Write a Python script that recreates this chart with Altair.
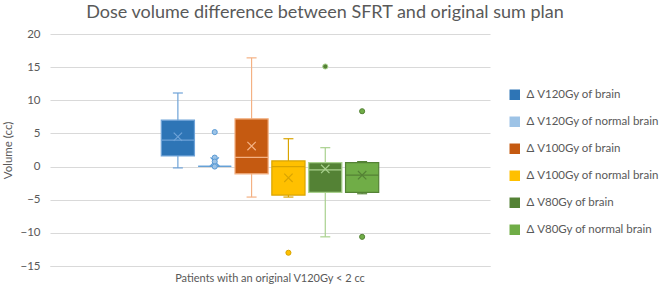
import altair as alt
import pandas as pd

# Box-and-whisker summaries for each dose-volume difference (cc)
group = "Patients with an original V120Gy < 2 cc"
series = [
    "Δ V120Gy of brain",
    "Δ V120Gy of normal brain",
    "Δ V100Gy of brain",
    "Δ V100Gy of normal brain",
    "Δ V80Gy of brain",
    "Δ V80Gy of normal brain",
]
q1 = [1.6, 0.05, -1.1, -4.3, -3.9, -3.9]
median = [4.0, 0.05, 1.4, 0.0, -0.5, -1.3]
q3 = [7.0, 0.05, 7.2, 0.85, 0.6, 0.6]
whisker_low = [-0.2, 0.05, -4.6, -4.6, -10.6, -4.1]
whisker_high = [11.1, 0.05, 16.4, 4.2, 2.85, 0.75]
mean = [4.5, 0.75, 3.1, -1.7, -0.35, -1.3]

# Outlying points (series index, value)
outlier_series = [1, 1, 1, 1, 3, 4, 5, 5]
outlier_values = [5.2, 1.35, 0.75, 0.0, -13.0, 15.1, 8.35, -10.6]

fill_colors = ["#2E75B6", "#9DC3E6", "#C55A11", "#FFC000", "#548235", "#70AD47"]
line_colors = ["#6FA3D8", "#5B9BD5", "#F4B183", "#D9A400", "#A9D18E", "#548235"]
y_ticks = [-15, -10, -5, 0, 5, 10, 15, 20]

boxes = pd.DataFrame({
    "group": group,
    "series": series,
    "q1": q1,
    "median": median,
    "q3": q3,
    "lo": whisker_low,
    "hi": whisker_high,
    "mean": mean,
    "line": line_colors,
})
outliers = pd.DataFrame({
    "group": group,
    "series": [series[i] for i in outlier_series],
    "value": outlier_values,
    "line": [line_colors[i] for i in outlier_series],
})

FONT = "Lato"
TEXT = "#595959"

x = alt.X(
    "group:N",
    scale=alt.Scale(paddingInner=0, paddingOuter=0.495),
    axis=alt.Axis(title=None, labelAngle=0, ticks=False, domain=True, grid=False,
                  domainColor="#D9D9D9", labelFontSize=11, labelColor=TEXT,
                  labelFont=FONT, labelPadding=6, labelLimit=400),
)
xo = alt.XOffset("series:N", sort=series,
                 scale=alt.Scale(paddingInner=0.1, paddingOuter=0.05))
yscale = alt.Scale(domain=[-15, 20], nice=False, zero=False)
yaxis = alt.Axis(title="Volume (cc)", values=y_ticks,
                 grid=True, gridColor="#D9D9D9", domain=False, ticks=False,
                 labelOverlap=False, labelFontSize=11.5, labelColor=TEXT,
                 labelFont=FONT, labelPadding=10,
                 titleFontSize=11.5, titleColor=TEXT, titleFont=FONT,
                 titleFontWeight="normal", titlePadding=6)


def yenc(field):
    return alt.Y(field, scale=yscale, axis=yaxis)


color = alt.Color(
    "series:N", sort=series,
    scale=alt.Scale(domain=series, range=fill_colors),
    legend=alt.Legend(title=None, orient="none", legendX=459, legendY=55,
                      symbolType="square", symbolSize=110, symbolStrokeWidth=0,
                      symbolOpacity=1, symbolFillColor="transparent",
                      labelFontSize=11.5, labelColor=TEXT, labelFont=FONT,
                      rowPadding=14, labelOffset=6, labelLimit=300),
)
stroke = alt.Stroke("line:N", scale=None)
line_color = alt.Color("line:N", scale=None)

base = alt.Chart(boxes)

whiskers = base.mark_rule(strokeWidth=1.2).encode(
    x=x, xOffset=xo, y=yenc("lo:Q"), y2="hi:Q", stroke=stroke)
cap_lo = base.mark_tick(size=10, thickness=1.2, opacity=1).encode(
    x=x, xOffset=xo, y=yenc("lo:Q"), color=line_color)
cap_hi = base.mark_tick(size=10, thickness=1.2, opacity=1).encode(
    x=x, xOffset=xo, y=yenc("hi:Q"), color=line_color)
box = base.mark_bar(strokeWidth=1.2, opacity=1, fillOpacity=1).encode(
    x=x, xOffset=xo, y=yenc("q1:Q"), y2="q3:Q", fill=color, stroke=stroke)
med = base.mark_tick(size=33, thickness=1.2, opacity=1).encode(
    x=x, xOffset=xo, y=yenc("median:Q"), color=line_color)
avg = base.mark_point(shape="M-1,-1L1,1M-1,1L1,-1", size=70, strokeWidth=1.2,
                      filled=False, opacity=1).encode(
    x=x, xOffset=xo, y=yenc("mean:Q"), stroke=stroke)
pts = alt.Chart(outliers).mark_circle(size=26, opacity=1, strokeWidth=1).encode(
    x=x, xOffset=xo, y=yenc("value:Q"), fill=color, stroke=stroke)

chart = alt.layer(whiskers, cap_lo, cap_hi, box, med, avg, pts).properties(
    width=440, height=232,
    background="white",
    title=alt.TitleParams("Dose volume difference between SFRT and original sum plan",
                          fontSize=18, font=FONT, color=TEXT, fontWeight="normal",
                          anchor="middle", frame="group", dx=55, offset=6),
    autosize=alt.AutoSizeParams(type="none"),
    padding={"left": 50, "top": 34, "right": 171, "bottom": 26},
).configure_axis(labelOverlap=False).configure_view(strokeWidth=0)

chart.save("out.html", embed_options={"renderer": "svg", "actions": False})
